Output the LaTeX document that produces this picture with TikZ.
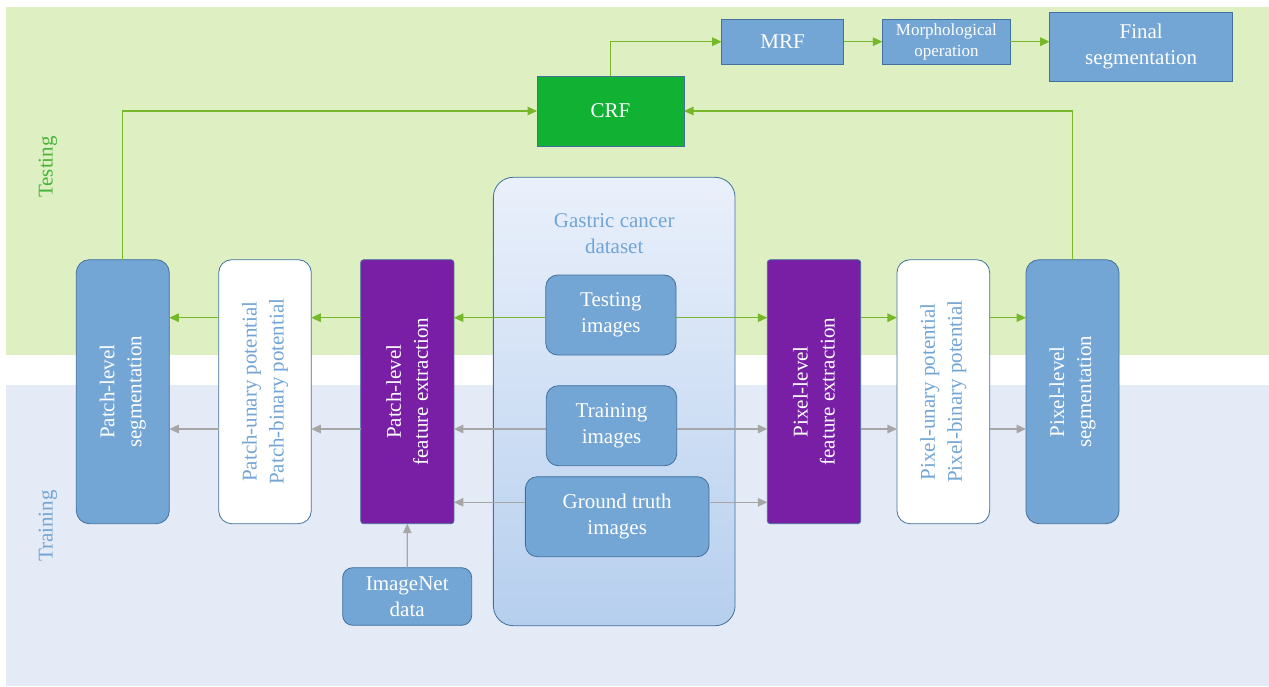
\documentclass[tikz,border=0pt]{standalone}
\usepackage{fontspec}
\setmainfont{Liberation Serif}
\usetikzlibrary{arrows.meta}
\definecolor{bgtest}{RGB}{222,240,194}
\definecolor{bgtrain}{RGB}{228,234,246}
\definecolor{boxblue}{RGB}{115,165,213}
\definecolor{edgeblue}{RGB}{65,113,156}
\definecolor{lblue}{RGB}{114,165,214}
\definecolor{boxpurple}{RGB}{121,31,166}
\definecolor{crfgreen}{RGB}{17,178,52}
\definecolor{lgreen}{RGB}{118,184,42}
\definecolor{lgray}{RGB}{166,166,166}
\definecolor{testlbl}{RGB}{70,180,60}
\definecolor{dstop}{RGB}{234,240,251}
\definecolor{dsbot}{RGB}{182,207,238}
\begin{document}
\begin{tikzpicture}[x=1pt,y=-1pt,
  box/.style={draw=edgeblue,line width=0.8pt,inner sep=0pt,outer sep=0pt,align=center,
    font=\fontsize{21}{26}\selectfont},
  bluebox/.style={box,fill=boxblue,text=white},
  vtext/.style={rotate=90,align=center,font=\fontsize{21}{27}\selectfont},
  gar/.style={draw=lgreen,line width=1.3pt,-{Triangle[length=9.5pt,width=8.5pt]}},
  grar/.style={draw=lgray,line width=1.3pt,-{Triangle[length=9.5pt,width=8.5pt]}}
]
\useasboundingbox (0,0) rectangle (1269,686);
\fill[bgtest] (6,7) rectangle (1269,355);
\fill[bgtrain] (6,385) rectangle (1269,686);

\node[rotate=90,text=testlbl,font=\fontsize{21}{26}\selectfont] (lbltest) at (48,167) {Testing};
\node[rotate=90,text=lblue,font=\fontsize{21}{26}\selectfont] (lbltrain) at (48,526) {Training};

% dataset container
\node[box,rounded corners=20pt,top color=dstop,bottom color=dsbot,minimum width=241.7pt,minimum height=448.4pt,
  label={[name=dstitle,anchor=north,yshift=-33pt,text=lblue,align=center,font=\fontsize{21}{26}\selectfont]north:Gastric cancer\\dataset}]
  (dataset) at (614.2,401.5) {};
\node[bluebox,rounded corners=12pt,minimum width=130.3pt,minimum height=80pt] (testimg) at (610.9,315) {Testing\\images};
\node[bluebox,rounded corners=12pt,minimum width=130.4pt,minimum height=80pt] (trainimg) at (611.5,425.7) {Training\\images};
\node[bluebox,rounded corners=12pt,minimum width=183.7pt,minimum height=80pt] (gtimg) at (617.2,516.7) {Ground truth\\images};

% vertical boxes
\node[bluebox,rounded corners=13pt,minimum width=93pt,minimum height=264pt,
  label={[vtext,text=white]center:Patch-level\\segmentation}] (patchseg) at (122.8,391.7) {};
\node[box,fill=white,rounded corners=13pt,minimum width=92.6pt,minimum height=264pt,
  label={[vtext,text=lblue]center:Patch-unary potential\\Patch-binary potential}] (patchpot) at (265,391.7) {};
\node[box,fill=boxpurple,rounded corners=3pt,minimum width=93.3pt,minimum height=264pt,
  label={[vtext,text=white]center:Patch-level\\feature extraction}] (patchfeat) at (407.3,391.7) {};
\node[box,fill=boxpurple,rounded corners=3pt,minimum width=93.4pt,minimum height=264pt,
  label={[vtext,text=white]center:Pixel-level\\feature extraction}] (pixfeat) at (814,391.7) {};
\node[box,fill=white,rounded corners=13pt,minimum width=92.7pt,minimum height=264pt,
  label={[vtext,text=lblue]center:Pixel-unary potential\\Pixel-binary potential}] (pixpot) at (943.3,391.7) {};
\node[bluebox,rounded corners=13pt,minimum width=93pt,minimum height=264pt,
  label={[vtext,text=white]center:Pixel-level\\segmentation}] (pixseg) at (1072.5,391.7) {};

\node[bluebox,rounded corners=10pt,minimum width=129pt,minimum height=57.6pt] (imagenet) at (407.2,596.5) {ImageNet\\data};

% top chain
\node[box,fill=crfgreen,text=white,minimum width=147pt,minimum height=70pt] (crf) at (610.5,111) {CRF};
\node[bluebox,minimum width=122pt,minimum height=45.3pt] (mrf) at (782.6,41.7) {MRF};
\node[bluebox,minimum width=128pt,minimum height=45pt,font=\fontsize{17}{21}\selectfont] (morph) at (946.4,41.7) {Morphological\\operation};
\node[bluebox,minimum width=183pt,minimum height=69.3pt] (final) at (1141.2,46.7) {Final\\segmentation};

\coordinate (rowtest) at (0,317.7);
\coordinate (rowtrain) at (0,429);
\coordinate (rowgt) at (0,502.3);

% green (testing) connectors
\draw[gar] (testimg.west |- rowtest) -- (patchfeat.east |- rowtest);
\draw[gar] (patchfeat.west |- rowtest) -- (patchpot.east |- rowtest);
\draw[gar] (patchpot.west |- rowtest) -- (patchseg.east |- rowtest);
\draw[gar] (testimg.east |- rowtest) -- (pixfeat.west |- rowtest);
\draw[gar] (pixfeat.east |- rowtest) -- (pixpot.west |- rowtest);
\draw[gar] (pixpot.east |- rowtest) -- (pixseg.west |- rowtest);
\draw[gar] (patchseg.north) |- (crf.west);
\draw[gar] (pixseg.north) |- (crf.east);
\draw[gar] (crf.north) |- (mrf.west);
\draw[gar] (mrf.east) -- (morph.west);
\draw[gar] (morph.east) -- (final.west |- morph.east);

% gray (training) connectors
\draw[grar] (trainimg.west |- rowtrain) -- (patchfeat.east |- rowtrain);
\draw[grar] (patchfeat.west |- rowtrain) -- (patchpot.east |- rowtrain);
\draw[grar] (patchpot.west |- rowtrain) -- (patchseg.east |- rowtrain);
\draw[grar] (trainimg.east |- rowtrain) -- (pixfeat.west |- rowtrain);
\draw[grar] (pixfeat.east |- rowtrain) -- (pixpot.west |- rowtrain);
\draw[grar] (pixpot.east |- rowtrain) -- (pixseg.west |- rowtrain);
\draw[grar] (gtimg.west |- rowgt) -- (patchfeat.east |- rowgt);
\draw[grar] (gtimg.east |- rowgt) -- (pixfeat.west |- rowgt);
\draw[grar] (imagenet.north) -- (patchfeat.south);
\end{tikzpicture}
\end{document}
